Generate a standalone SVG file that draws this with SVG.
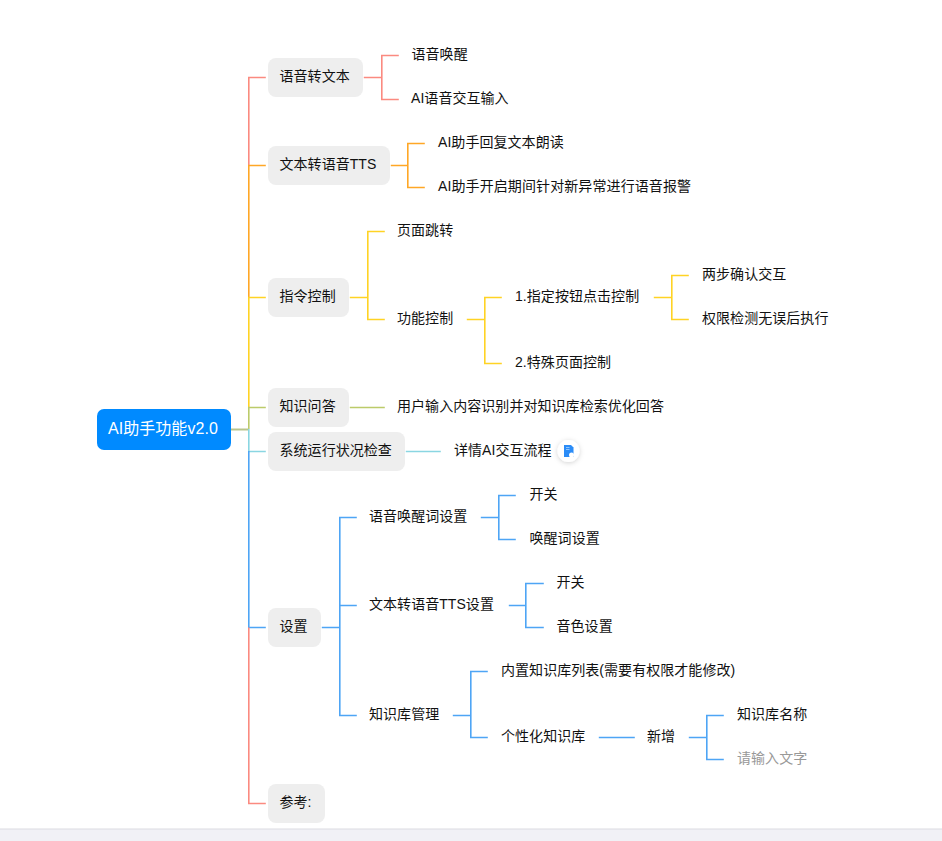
<svg xmlns="http://www.w3.org/2000/svg" width="942" height="841" viewBox="0 0 942 841">
<style>
text{font-family:"Liberation Sans","Noto Sans CJK SC",sans-serif;font-size:14px;fill:#111;letter-spacing:.05px}
.b{fill:#eeeeee}
.l{fill:none;stroke-width:1.6}
.red{stroke:#fb8a80}.org{stroke:#ffa726}.yel{stroke:#ffd324}.olv{stroke:#bccb6a}.cyn{stroke:#8ad6e2}.blu{stroke:#4ea5f5}
</style>
<defs><filter id="sh" x="-50%" y="-50%" width="200%" height="200%"><feDropShadow dx="0" dy="1" stdDeviation="2.500" flood-color="#000" flood-opacity=".18"/></filter></defs>
<rect width="942" height="841" fill="#fff"/>
<rect x="0" y="829" width="942" height="12" fill="#f1f1f6"/>
<rect x="0" y="828.500" width="942" height="1" fill="#dcdce2"/>
<g id="connectors" transform="translate(-.2 0)">
<path class="l red" d="M249 165V77.500H266M364 77.500H382M399 55.500H382V99.500H399"/>
<path class="l org" d="M249 297V165.500H266M391 165.500H408M425 143.500H408V187.500H425"/>
<path class="l yel" d="M249 407V297.500H266M350 297.500H368M385 231.500H368V319.500H385M467 319.500H485M502 297.500H485V363.500H502M654 297.500H672M689 275.500H672V319.500H689"/>
<path class="l olv" d="M249 429V407.500H266M350 407.500H385"/>
<path d="M231 429.500H249" stroke="#b9c48c" stroke-width="2" fill="none"/>
<path class="l cyn" d="M249 429V451.500H266M406 451.500H441"/>
<path class="l blu" d="M249 451V627.500H266M322 627.500H340M357 517.500H340V715.500H357M340 605.500H357M481 517.500H499M516 495.500H499V539.500H516M509 605.500H526M544 583.500H526V627.500H544M453 715.500H471M488 671.500H471V737.500H488M599 737.500H635M689 737.500H707M724 715.500H707V759.500H724"/>
<path class="l red" d="M249 627.500V803.500H266"/>
</g>
<g id="root"><rect x="97" y="409" width="134" height="41" rx="7" fill="#008aff"/><text x="108" y="433.500" style="font-size:16px;fill:#fff">AI助手功能v2.0</text></g>
<g id="n1"><rect class="b" x="268" y="58" width="95" height="39" rx="8"/><text x="279.500" y="80.500">语音转文本</text></g>
<g id="n1a"><text x="411.500" y="58.500">语音唤醒</text></g>
<g id="n1b"><text x="411" y="102.500">AI语音交互输入</text></g>
<g id="n2"><rect class="b" x="268" y="146" width="122" height="39" rx="8"/><text x="279.500" y="168.500">文本转语音TTS</text></g>
<g id="n2a"><text x="438" y="146.500">AI助手回复文本朗读</text></g>
<g id="n2b"><text x="438" y="190.500" style="letter-spacing:.1px">AI助手开启期间针对新异常进行语音报警</text></g>
<g id="n3"><rect class="b" x="268" y="278" width="81" height="39" rx="8"/><text x="279.500" y="300.500">指令控制</text></g>
<g id="n3a"><text x="397" y="234.500">页面跳转</text></g>
<g id="n3b"><text x="397" y="322.500">功能控制</text></g>
<g id="n3b1"><text x="515" y="300.500">1.指定按钮点击控制</text></g>
<g id="n3b2"><text x="515" y="366.500">2.特殊页面控制</text></g>
<g id="n3b1a"><text x="702" y="278.500">两步确认交互</text></g>
<g id="n3b1b"><text x="702" y="322.500">权限检测无误后执行</text></g>
<g id="n4"><rect class="b" x="268" y="388" width="81" height="39" rx="8"/><text x="279.500" y="410.500">知识问答</text></g>
<g id="n4a"><text x="397" y="410.500">用户输入内容识别并对知识库检索优化回答</text></g>
<g id="n5"><rect class="b" x="268" y="432" width="137" height="39" rx="8"/><text x="279.500" y="454.500">系统运行状况检查</text></g>
<g id="n5a"><text x="454" y="454.500">详情AI交互流程</text>
<circle cx="568.500" cy="451" r="11" fill="#fff" filter="url(#sh)"/>
<path d="M564 445h7l2.500 2.500v9.500H564z" fill="#2b8cf7"/><circle cx="571.500" cy="455" r="2.500" fill="#fff"/><path d="M566 447.500h3.500M566 449.500h3.500" stroke="#a9d3fc" stroke-width=".8"/></g>
<g id="n6"><rect class="b" x="268" y="608" width="53" height="39" rx="8"/><text x="279.500" y="630.500">设置</text></g>
<g id="n6a"><text x="369" y="520.500">语音唤醒词设置</text></g>
<g id="n6a1"><text x="529.500" y="498.500">开关</text></g>
<g id="n6a2"><text x="529.500" y="542.500">唤醒词设置</text></g>
<g id="n6b"><text x="369" y="608.500">文本转语音TTS设置</text></g>
<g id="n6b1"><text x="556.500" y="586.500">开关</text></g>
<g id="n6b2"><text x="556.500" y="630.500">音色设置</text></g>
<g id="n6c"><text x="369" y="718.500">知识库管理</text></g>
<g id="n6c1"><text x="501" y="674.500">内置知识库列表(需要有权限才能修改)</text></g>
<g id="n6c2"><text x="501" y="740.500">个性化知识库</text></g>
<g id="n6c2a"><text x="647" y="740.500">新增</text></g>
<g id="n6c2a1"><text x="737" y="718.500">知识库名称</text></g>
<g id="n6c2a2"><text x="737" y="762.500" style="fill:#999">请输入文字</text></g>
<g id="n7"><rect class="b" x="268" y="784" width="57" height="39" rx="8"/><text x="279.500" y="806.500">参考:</text></g>
</svg>
